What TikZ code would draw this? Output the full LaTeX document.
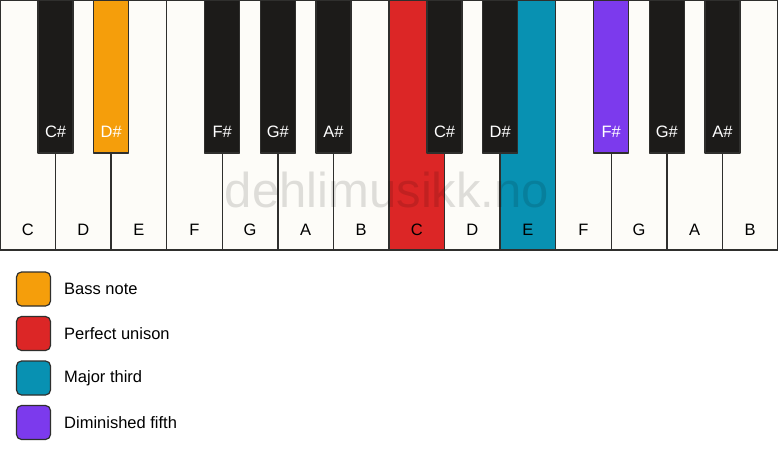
\documentclass[tikz,border=0pt]{standalone}
\usepackage{fontspec}
\setmainfont{Liberation Sans}
\definecolor{keyline}{HTML}{2F2F2D}
\definecolor{ivory}{HTML}{FDFCF8}
\definecolor{ebony}{HTML}{1C1B19}
\definecolor{bassnote}{HTML}{F59E0B}
\definecolor{unison}{HTML}{DC2626}
\definecolor{third}{HTML}{0891B2}
\definecolor{fifth}{HTML}{7C3AED}
\tikzset{
  whitekey/.style={draw=keyline,line width=1.4pt},
  blackkey/.style={draw=keyline,line width=1.2pt},
  keylabel/.style={font=\fontsize{16.5}{19}\selectfont,text=black},
  sharplabel/.style={font=\fontsize{16.5}{19}\selectfont,text=white},
  legendbox/.style={draw=keyline,line width=1.2pt,rounded corners=5pt,minimum size=34pt,inner sep=0pt},
  legendtext/.style={font=\fontsize{16.5}{19}\selectfont,anchor=west,inner sep=0pt}
}
\begin{document}
\begin{tikzpicture}[x=1pt,y=-1pt,line join=round]
	\useasboundingbox[fill=white] (0,0) rectangle (778,461);
	\def\kw{55.571}
	% white keys
	\foreach \n/\c [count=\i from 0] in {C/ivory,D/ivory,E/ivory,F/ivory,G/ivory,A/ivory,B/ivory,C/unison,D/ivory,E/third,F/ivory,G/ivory,A/ivory,B/ivory}{
		\draw[whitekey,fill=\c] (\i*\kw,0.7) rectangle ++(\kw,249.3);
		\node[keylabel] (w\i) at (\i*\kw+\kw/2,230) {\n};
	}
	% watermark
	\node[font=\fontsize{49}{51}\selectfont,text=black,text opacity=0.12,anchor=base] (mark) at (387,207) {dehlimusikk.no};
	% black keys
	\foreach \b/\n/\c in {1/C/ebony,2/D/bassnote,4/F/ebony,5/G/ebony,6/A/ebony,8/C/ebony,9/D/ebony,11/F/fifth,12/G/ebony,13/A/ebony}{
		\draw[blackkey,fill=\c] (\b*\kw-17.5,0.7) rectangle ++(35,152.3);
		\node[sharplabel] (s\b) at (\b*\kw,132) {\n\#};
	}
	\draw[keyline,line width=1.4pt] (0.7,0.7) rectangle (777.3,250);
	% legend
	\foreach \t/\c [count=\j from 0] in {Bass note/bassnote,Perfect unison/unison,Major third/third,Diminished fifth/fifth}{
		\node[legendbox,fill=\c] (box\j) at (33.5,289+\j*44.5) {};
		\node[legendtext] (txt\j) at (64,289+\j*44.5) {\t};
	}
\end{tikzpicture}
\end{document}
